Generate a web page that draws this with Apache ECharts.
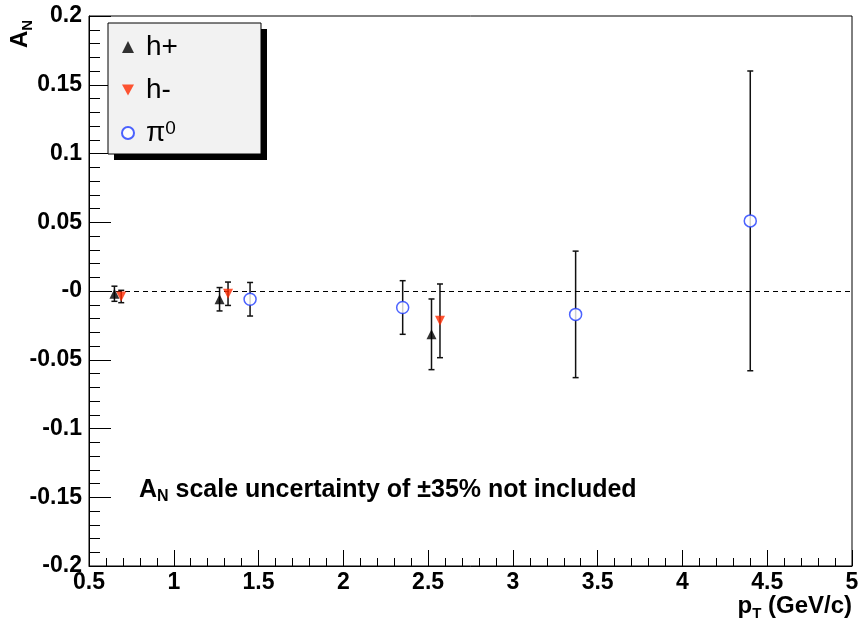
<!DOCTYPE html>
<html>
<head>
<meta charset="utf-8">
<script src="https://cdn.jsdelivr.net/npm/echarts@6/dist/echarts.min.js"></script>
<style>
html,body{margin:0;padding:0;background:#fff;}
#chart{width:863px;height:625px;}
</style>
</head>
<body>
<div id="chart"></div>
<script>
// ---- data ----
const hpX   = [0.65, 1.27, 2.52];
const hpY   = [-0.002, -0.006, -0.0315];
const hpErr = [0.0055, 0.0085, 0.0257];

const hmX   = [0.69, 1.32, 2.57];
const hmY   = [-0.004, -0.002, -0.0217];
const hmErr = [0.0045, 0.0085, 0.0268];

const piX   = [1.45, 2.35, 3.37, 4.40];
const piY   = [-0.006, -0.012, -0.017, 0.051];
const piErr = [0.0122, 0.0195, 0.046, 0.109];

const xMin = 0.5, xMax = 5, xStep = 0.5;
const yMin = -0.2, yMax = 0.2, yStep = 0.05;
const xTickLabels = ['0.5','1','1.5','2','2.5','3','3.5','4','4.5','5'];
const yTickLabels = ['-0.2','-0.15','-0.1','-0.05','-0','0.05','0.1','0.15','0.2'];

const FONT = "'Liberation Sans', Arial, Helvetica, sans-serif";
const RED = '#ff2a00', BLUE = '#1f3cff';
const DOWN_TRI = 'path://M0,0 L10,0 L5,9 Z';

function pts(xs, ys, es) { return xs.map((x, i) => es ? [x, ys[i], es[i]] : [x, ys[i]]); }

function errRender(params, api) {
  const x = api.value(0), y = api.value(1), e = api.value(2);
  const t = api.coord([x, y + e]), b = api.coord([x, y - e]);
  const hw = 3, st = { stroke: '#111', lineWidth: 1.5 };
  return { type: 'group', children: [
    { type: 'line', shape: { x1: t[0], y1: t[1], x2: b[0], y2: b[1] }, style: st },
    { type: 'line', shape: { x1: t[0] - hw, y1: t[1], x2: t[0] + hw, y2: t[1] }, style: st },
    { type: 'line', shape: { x1: b[0] - hw, y1: b[1], x2: b[0] + hw, y2: b[1] }, style: st }
  ]};
}

const chart = echarts.init(document.getElementById('chart'), null, { renderer: 'canvas' });

const subRich = {
  a: { fontFamily: FONT, fontWeight: 'bold', fontSize: 24, lineHeight: 30, color: '#000', verticalAlign: 'middle' },
  s: { fontFamily: FONT, fontWeight: 'bold', fontSize: 15, lineHeight: 15, color: '#000', verticalAlign: 'bottom' }
};

chart.setOption({
  animation: false,
  backgroundColor: '#fff',
  grid: { left: 89, right: 11, top: 16, bottom: 59, show: true, borderColor: '#000', borderWidth: 1, backgroundColor: 'transparent' },
  xAxis: {
    type: 'value', min: xMin, max: xMax, interval: xStep,
    axisLine: { show: true, onZero: false, lineStyle: { color: '#000', width: 1 } },
    axisTick: { show: true, inside: true, length: 16, lineStyle: { color: '#000', width: 1 } },
    minorTick: { show: true, splitNumber: 5, length: 8, lineStyle: { color: '#000', width: 1 } },
    splitLine: { show: false },
    axisLabel: {
      margin: 5, color: '#000', fontFamily: FONT, fontWeight: 'bold', fontSize: 23,
      formatter: v => xTickLabels[Math.round((v - xMin) / xStep)]
    }
  },
  yAxis: {
    type: 'value', min: yMin, max: yMax, interval: yStep,
    axisLine: { show: true, onZero: false, lineStyle: { color: '#000', width: 1 } },
    axisTick: { show: true, inside: true, length: 22, lineStyle: { color: '#000', width: 1 } },
    minorTick: { show: true, splitNumber: 5, length: 11, lineStyle: { color: '#000', width: 1 } },
    splitLine: { show: false },
    axisLabel: {
      margin: 7, color: '#000', fontFamily: FONT, fontWeight: 'bold', fontSize: 23,
      formatter: v => yTickLabels[Math.round((v - yMin) / yStep)]
    }
  },
  legend: {
    orient: 'vertical', left: 116, top: 28, z: 20,
    itemWidth: 12, itemHeight: 12, itemGap: 15,
    data: [
      { name: 'h+', icon: 'triangle' },
      { name: 'h-', icon: DOWN_TRI },
      { name: 'pi0', icon: 'circle' }
    ],
    formatter: n => n === 'pi0' ? '{a|π}{sup|0}' : '{a|' + n + '}',
    textStyle: {
      fontFamily: FONT, fontSize: 28, color: '#000', padding: [0, 0, 0, 7],
      rich: {
        a: { fontFamily: FONT, fontSize: 28, lineHeight: 28, color: '#000' },
        sup: { fontFamily: FONT, fontSize: 19, lineHeight: 15, color: '#000', verticalAlign: 'top' }
      }
    }
  },
  graphic: [
    { type: 'rect', z: 1, shape: { x: 114, y: 29, width: 153, height: 131 }, style: { fill: '#000' } },
    { type: 'rect', z: 2, shape: { x: 108, y: 23, width: 153, height: 131 }, style: { fill: '#f2f2f2', stroke: '#000', lineWidth: 1 } },
    { type: 'text', z: 5, x: 20, y: 48, rotation: Math.PI / 2,
      style: { text: '{a|A}{s|N}', rich: subRich, align: 'left', verticalAlign: 'middle' } },
    { type: 'text', z: 5, x: 852, y: 606,
      style: { text: '{a|p}{s|T}{a| (GeV/c)}', rich: subRich, align: 'right', verticalAlign: 'middle' } },
    { type: 'text', z: 5, x: 139, y: 490,
      style: { text: '{a|A}{s|N}{a| scale uncertainty of ±35% not included}', rich: {
        a: { fontFamily: FONT, fontWeight: 'bold', fontSize: 25, lineHeight: 30, color: '#000', verticalAlign: 'middle' },
        s: { fontFamily: FONT, fontWeight: 'bold', fontSize: 16, lineHeight: 16, color: '#000', verticalAlign: 'bottom' }
      }, align: 'left', verticalAlign: 'middle' } }
  ],
  series: [
    { name: 'h+ err', type: 'custom', renderItem: errRender, data: pts(hpX, hpY, hpErr), z: 3, silent: true,
      markLine: { silent: true, symbol: 'none', label: { show: false },
        lineStyle: { color: '#000', width: 1, type: [5, 4] }, data: [{ yAxis: 0 }] } },
    { name: 'h- err', type: 'custom', renderItem: errRender, data: pts(hmX, hmY, hmErr), z: 3, silent: true },
    { name: 'pi0 err', type: 'custom', renderItem: errRender, data: pts(piX, piY, piErr), z: 3, silent: true },
    { name: 'h+', type: 'scatter', symbol: 'triangle', symbolSize: 10, data: pts(hpX, hpY), z: 6,
      itemStyle: { color: '#000' } },
    { name: 'h-', type: 'scatter', symbol: 'triangle', symbolRotate: 180, symbolSize: 10, data: pts(hmX, hmY), z: 6,
      itemStyle: { color: RED } },
    { name: 'pi0', type: 'scatter', symbol: 'circle', symbolSize: 12, data: pts(piX, piY), z: 6,
      itemStyle: { color: '#fff', borderColor: BLUE, borderWidth: 1.5 } }
  ]
});
</script>
</body>
</html>
